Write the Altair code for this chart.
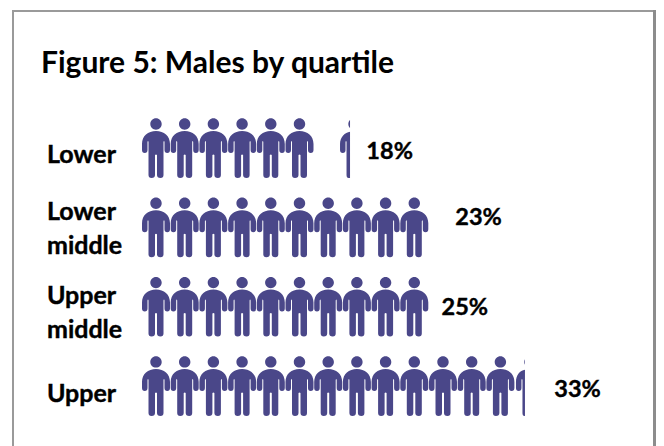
import math
import altair as alt
import pandas as pd

TITLE = "Figure 5: Males by quartile"
CATEGORIES = [["Lower"], ["Lower", "middle"], ["Upper", "middle"], ["Upper"]]
PERCENTS = ["18%", "23%", "25%", "33%"]
FULL_PEOPLE = [6, 10, 10, 13]
PARTIAL_AT = [6.9, None, None, 13.03]
PARTIAL_CUT = [-4.0, None, None, -5.0]
PCT_X = [7.33, 10.43, 9.95, 13.88]
PCT_Y = [0.05, 0.88, 2.02, 3.05]
CAT_Y = [0.09, 0.81, 1.87, 3.10]
CAT_X = -3.8
COLOR = "#4a4789"
W, H = 648, 438
X_DOMAIN = [(8 - 156) / 28.7, (656 - 156) / 28.7]
Y_DOMAIN = [(8 - 148) / 79.3, (446 - 148) / 79.3]


def head(r=5.7, cy=-24.0):
    return f"M{-r} {cy}A{r} {r} 0 1 1 {r} {cy}A{r} {r} 0 1 1 {-r} {cy}Z"


FULL_PATH = head() + (
    "M0 -17C8 -17 14 -12 14 -4L14 2Q14 5 11.2 5Q8.5 5 8.5 2L8.5 -6Q8 -8 7.5 -6"
    "L7.5 27Q7.5 30 4.5 30Q1 30 1 27L1 7Q0 6 -1 7L-1 27Q-1 30 -4.5 30Q-7.5 30 -7.5 27"
    "L-7.5 -6Q-8 -8 -8.5 -6L-8.5 2Q-8.5 5 -11.2 5Q-14 5 -14 2L-14 -4C-14 -12 -8 -17 0 -17Z"
)


def left_part(c):
    r, cy = 5.7, -24.0
    h = math.sqrt(r * r - c * c)
    sliver = f"M{c} {cy - h:.2f}A{r} {r} 0 0 0 {c} {cy + h:.2f}Z"
    body = (
        f"M{c} -16.2C{c - 5} -15.5 -14 -11 -14 -4L-14 2Q-14 5 -11.2 5Q-8.5 5 -8.5 2"
        f"L-8.5 -6Q-8 -8 -7.5 -6L-7.5 27Q-7.5 30 -5.5 30L{c} 30Z"
    )
    return sliver + body


people = []
for row, n in enumerate(FULL_PEOPLE):
    for i in range(n):
        people.append({"pos": i, "row": row, "glyph": FULL_PATH})
    if PARTIAL_AT[row] is not None:
        people.append({"pos": PARTIAL_AT[row], "row": row, "glyph": left_part(PARTIAL_CUT[row])})
people = pd.DataFrame(people)

cats = pd.DataFrame({"label": CATEGORIES, "row": CAT_Y, "pos": [CAT_X] * 4})
pcts = pd.DataFrame({"label": PERCENTS, "row": PCT_Y, "pos": PCT_X})

xs = alt.X("pos:Q", scale=alt.Scale(domain=X_DOMAIN, range=[0, W], nice=False, zero=False), axis=None)
ys = alt.Y("row:Q", scale=alt.Scale(domain=Y_DOMAIN, range=[0, H], nice=False, zero=False), axis=None)

one = alt.Data(values=[{}])


def frame(x0, x1, y0, y1, color):
    return alt.Chart(one).mark_rect(color=color, opacity=1).encode(
        x=alt.value(x0 - 8), x2=alt.value(x1 - 8), y=alt.value(y0 - 8), y2=alt.value(y1 - 8)
    )


frames = [
    frame(12, 14, 10, 446, "#9a9a9a"),
    frame(12, 656, 10, 12, "#9a9a9a"),
    frame(653, 656, 10, 446, "#8c8c8c"),
]

figures = alt.Chart(people).mark_point(filled=True, opacity=1, size=4, strokeWidth=0, color=COLOR).encode(
    x=xs, y=ys, shape=alt.Shape("glyph:N", scale=None, legend=None)
)
cat_text = alt.Chart(cats).mark_text(
    align="left", baseline="middle", font="Lato", fontWeight="bold", fontSize=25,
    lineHeight=34, color="#000000", stroke="#000000", strokeWidth=0.4
).encode(x=xs, y=ys, text="label")
pct_text = alt.Chart(pcts).mark_text(
    align="left", baseline="middle", font="Lato", fontWeight="bold", fontSize=23.5,
    color="#000000", stroke="#000000", strokeWidth=0.4
).encode(x=xs, y=ys, text="label:N")

chart = alt.layer(*frames, figures, cat_text, pct_text).properties(
    width=W, height=H, padding=0, autosize=alt.AutoSizeParams(type="none"), background="white",
    title=alt.TitleParams(TITLE, anchor="start", frame="group", dx=33, dy=75, font="Lato",
                          fontWeight="bold", fontSize=30, color="#000000"),
).configure_view(strokeWidth=0)

chart.save("out.html", embed_options={"renderer": "svg", "actions": False})
